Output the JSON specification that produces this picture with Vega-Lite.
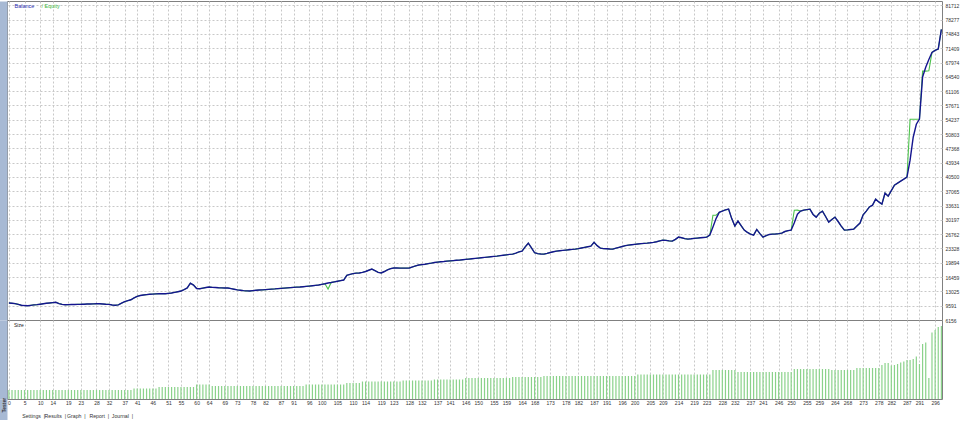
{
"$schema": "https://vega.github.io/schema/vega-lite/v6.json",
"padding": {"top": 0, "left": 0, "right": 0, "bottom": 0},
"background": "#ffffff",
"spacing": 0,
"bounds": "flush",
"config": {"view": {"stroke": "#808080", "strokeWidth": 1}, "font": "Liberation Sans", "axis": {"labelFont": "Liberation Sans", "titleFont": "Liberation Sans"}, "legend": {"labelFont": "Liberation Sans"}},
"resolve": {"scale": {"x": "independent", "y": "independent", "color": "independent"}, "legend": {"color": "independent"}},
"datasets": {
"trades": [
{"t":0,"b":10230,"e":10230,"s":0.9},{"t":1,"b":10180,"e":10180,"s":0.9},{"t":2,"b":10080,"e":10080,"s":0.9},{"t":3,"b":9900,"e":9900,"s":0.9},{"t":4,"b":9700,"e":9700,"s":0.9},{"t":5,"b":9620,"e":9620,"s":0.9},{"t":6,"b":9590,"e":9590,"s":0.9},{"t":7,"b":9680,"e":9680,"s":0.9},{"t":8,"b":9780,"e":9780,"s":0.9},{"t":9,"b":9850,"e":9850,"s":0.9},
{"t":10,"b":9950,"e":9950,"s":0.9},{"t":11,"b":10060,"e":10060,"s":0.9},{"t":12,"b":10180,"e":10180,"s":0.9},{"t":13,"b":10250,"e":10250,"s":0.9},{"t":14,"b":10330,"e":10330,"s":0.9},{"t":15,"b":10400,"e":10400,"s":0.9},{"t":16,"b":10100,"e":10100,"s":0.9},{"t":17,"b":9900,"e":9900,"s":0.9},{"t":18,"b":9830,"e":9830,"s":0.9},{"t":19,"b":9850,"e":9850,"s":0.9},
{"t":20,"b":9870,"e":9870,"s":0.9},{"t":21,"b":9890,"e":9890,"s":0.9},{"t":22,"b":9910,"e":9910,"s":0.9},{"t":23,"b":9920,"e":9920,"s":0.9},{"t":24,"b":9950,"e":9950,"s":0.9},{"t":25,"b":9980,"e":9980,"s":0.9},{"t":26,"b":10000,"e":10000,"s":0.9},{"t":27,"b":10030,"e":10030,"s":0.9},{"t":28,"b":10060,"e":10060,"s":0.9},{"t":29,"b":10040,"e":10040,"s":0.9},
{"t":30,"b":10000,"e":10000,"s":0.9},{"t":31,"b":9950,"e":9950,"s":0.9},{"t":32,"b":9920,"e":9920,"s":0.9},{"t":33,"b":9750,"e":9750,"s":0.9},{"t":34,"b":9700,"e":9700,"s":0.9},{"t":35,"b":9800,"e":9800,"s":0.9},{"t":36,"b":10200,"e":10200,"s":0.9},{"t":37,"b":10550,"e":10550,"s":0.9},{"t":38,"b":10800,"e":10800,"s":0.9},{"t":39,"b":11020,"e":11020,"s":0.9},
{"t":40,"b":11450,"e":11450,"s":1.05},{"t":41,"b":11850,"e":11850,"s":1.05},{"t":42,"b":12050,"e":12050,"s":1.05},{"t":43,"b":12150,"e":12150,"s":1.05},{"t":44,"b":12250,"e":12250,"s":1.05},{"t":45,"b":12330,"e":12330,"s":1.05},{"t":46,"b":12380,"e":12380,"s":1.05},{"t":47,"b":12420,"e":12420,"s":1.05},{"t":48,"b":12460,"e":12460,"s":1.2},{"t":49,"b":12460,"e":12460,"s":1.2},
{"t":50,"b":12460,"e":12460,"s":1.2},{"t":51,"b":12550,"e":12550,"s":1.2},{"t":52,"b":12630,"e":12630,"s":1.2},{"t":53,"b":12800,"e":12800,"s":1.2},{"t":54,"b":12950,"e":12950,"s":1.2},{"t":55,"b":13110,"e":13110,"s":1.2},{"t":56,"b":13450,"e":13450,"s":1.2},{"t":57,"b":13850,"e":13850,"s":1.2},{"t":58,"b":15000,"e":15000,"s":1.2},{"t":59,"b":14550,"e":14550,"s":1.2},
{"t":60,"b":13700,"e":13700,"s":1.45},{"t":61,"b":13660,"e":13660,"s":1.45},{"t":62,"b":13800,"e":13800,"s":1.45},{"t":63,"b":13950,"e":13950,"s":1.45},{"t":64,"b":14070,"e":14070,"s":1.45},{"t":65,"b":14000,"e":14000,"s":1.3},{"t":66,"b":13950,"e":13950,"s":1.3},{"t":67,"b":13900,"e":13900,"s":1.3},{"t":68,"b":13880,"e":13880,"s":1.3},{"t":69,"b":13850,"e":13850,"s":1.3},
{"t":70,"b":13830,"e":13830,"s":1.3},{"t":71,"b":13700,"e":13700,"s":1.3},{"t":72,"b":13550,"e":13550,"s":1.3},{"t":73,"b":13400,"e":13400,"s":1.3},{"t":74,"b":13300,"e":13300,"s":1.3},{"t":75,"b":13200,"e":13200,"s":1.3},{"t":76,"b":13150,"e":13150,"s":1.3},{"t":77,"b":13110,"e":13110,"s":1.3},{"t":78,"b":13200,"e":13200,"s":1.3},{"t":79,"b":13300,"e":13300,"s":1.3},
{"t":80,"b":13350,"e":13350,"s":1.3},{"t":81,"b":13400,"e":13400,"s":1.3},{"t":82,"b":13450,"e":13450,"s":1.3},{"t":83,"b":13500,"e":13500,"s":1.3},{"t":84,"b":13560,"e":13560,"s":1.3},{"t":85,"b":13620,"e":13620,"s":1.3},{"t":86,"b":13700,"e":13700,"s":1.3},{"t":87,"b":13760,"e":13760,"s":1.3},{"t":88,"b":13820,"e":13820,"s":1.3},{"t":89,"b":13880,"e":13880,"s":1.3},
{"t":90,"b":13940,"e":13940,"s":1.3},{"t":91,"b":14000,"e":14000,"s":1.3},{"t":92,"b":14050,"e":14050,"s":1.3},{"t":93,"b":14080,"e":14080,"s":1.3},{"t":94,"b":14150,"e":14150,"s":1.3},{"t":95,"b":14230,"e":14230,"s":1.45},{"t":96,"b":14300,"e":14300,"s":1.45},{"t":97,"b":14380,"e":14380,"s":1.45},{"t":98,"b":14460,"e":14460,"s":1.45},{"t":99,"b":14550,"e":14550,"s":1.45},
{"t":100,"b":14700,"e":14700,"s":1.45},{"t":101,"b":14850,"e":14850,"s":1.45},{"t":102,"b":15030,"e":13600,"s":1.45},{"t":103,"b":15150,"e":15150,"s":1.45},{"t":104,"b":15300,"e":15300,"s":1.45},{"t":105,"b":15450,"e":15450,"s":1.45},{"t":106,"b":15600,"e":15600,"s":1.45},{"t":107,"b":15750,"e":15750,"s":1.45},{"t":108,"b":16900,"e":16900,"s":1.6},{"t":109,"b":17100,"e":17100,"s":1.6},
{"t":110,"b":17300,"e":17300,"s":1.6},{"t":111,"b":17400,"e":17400,"s":1.6},{"t":112,"b":17430,"e":17430,"s":1.6},{"t":113,"b":17600,"e":17600,"s":1.75},{"t":114,"b":17800,"e":17800,"s":1.75},{"t":115,"b":18100,"e":18100,"s":1.75},{"t":116,"b":18380,"e":18380,"s":1.75},{"t":117,"b":18000,"e":18000,"s":1.75},{"t":118,"b":17600,"e":17600,"s":1.75},{"t":119,"b":17450,"e":17450,"s":1.75},
{"t":120,"b":17800,"e":17800,"s":1.75},{"t":121,"b":18200,"e":18200,"s":1.75},{"t":122,"b":18500,"e":18500,"s":1.75},{"t":123,"b":18630,"e":18630,"s":1.75},{"t":124,"b":18630,"e":18630,"s":1.75},{"t":125,"b":18620,"e":18620,"s":1.75},{"t":126,"b":18600,"e":18600,"s":1.85},{"t":127,"b":18620,"e":18620,"s":1.85},{"t":128,"b":18650,"e":18650,"s":1.85},{"t":129,"b":18900,"e":18900,"s":1.85},
{"t":130,"b":19150,"e":19150,"s":1.85},{"t":131,"b":19350,"e":19350,"s":1.85},{"t":132,"b":19450,"e":19450,"s":1.85},{"t":133,"b":19550,"e":19550,"s":1.85},{"t":134,"b":19700,"e":19700,"s":1.85},{"t":135,"b":19800,"e":19800,"s":1.85},{"t":136,"b":19950,"e":19950,"s":1.95},{"t":137,"b":20060,"e":20060,"s":1.95},{"t":138,"b":20150,"e":20150,"s":1.95},{"t":139,"b":20200,"e":20200,"s":1.95},
{"t":140,"b":20280,"e":20280,"s":1.95},{"t":141,"b":20350,"e":20350,"s":1.95},{"t":142,"b":20420,"e":20420,"s":1.95},{"t":143,"b":20500,"e":20500,"s":1.95},{"t":144,"b":20540,"e":20540,"s":1.95},{"t":145,"b":20620,"e":20620,"s":1.95},{"t":146,"b":20700,"e":20700,"s":2.1},{"t":147,"b":20780,"e":20780,"s":2.1},{"t":148,"b":20860,"e":20860,"s":2.1},{"t":149,"b":20940,"e":20940,"s":2.1},
{"t":150,"b":21020,"e":21020,"s":2.1},{"t":151,"b":21100,"e":21100,"s":2.1},{"t":152,"b":21180,"e":21180,"s":2.1},{"t":153,"b":21260,"e":21260,"s":2.1},{"t":154,"b":21340,"e":21340,"s":2.1},{"t":155,"b":21420,"e":21420,"s":2.1},{"t":156,"b":21500,"e":21500,"s":2.1},{"t":157,"b":21600,"e":21600,"s":2.1},{"t":158,"b":21700,"e":21700,"s":2.1},{"t":159,"b":21800,"e":21800,"s":2.1},
{"t":160,"b":21900,"e":21900,"s":2.1},{"t":161,"b":21980,"e":21980,"s":2.2},{"t":162,"b":22200,"e":22200,"s":2.2},{"t":163,"b":22500,"e":22500,"s":2.2},{"t":164,"b":22700,"e":22700,"s":2.2},{"t":165,"b":23700,"e":23700,"s":2.2},{"t":166,"b":24600,"e":24600,"s":2.2},{"t":167,"b":23500,"e":23500,"s":2.2},{"t":168,"b":22300,"e":22300,"s":2.2},{"t":169,"b":22100,"e":22100,"s":2.2},
{"t":170,"b":22000,"e":22000,"s":2.2},{"t":171,"b":21980,"e":21980,"s":2.3},{"t":172,"b":22150,"e":22150,"s":2.3},{"t":173,"b":22350,"e":22350,"s":2.3},{"t":174,"b":22550,"e":22550,"s":2.3},{"t":175,"b":22700,"e":22700,"s":2.3},{"t":176,"b":22780,"e":22780,"s":2.3},{"t":177,"b":22860,"e":22860,"s":2.3},{"t":178,"b":22940,"e":22940,"s":2.3},{"t":179,"b":23020,"e":23020,"s":2.3},
{"t":180,"b":23100,"e":23100,"s":2.3},{"t":181,"b":23180,"e":23180,"s":2.3},{"t":182,"b":23300,"e":23300,"s":2.3},{"t":183,"b":23450,"e":23450,"s":2.3},{"t":184,"b":23600,"e":23600,"s":2.3},{"t":185,"b":23750,"e":23750,"s":2.3},{"t":186,"b":23900,"e":23900,"s":2.3},{"t":187,"b":24800,"e":24800,"s":2.3},{"t":188,"b":24000,"e":24000,"s":2.3},{"t":189,"b":23420,"e":23420,"s":2.3},
{"t":190,"b":23300,"e":23300,"s":2.3},{"t":191,"b":23250,"e":23250,"s":2.3},{"t":192,"b":23200,"e":23200,"s":2.3},{"t":193,"b":23180,"e":23180,"s":2.3},{"t":194,"b":23400,"e":23400,"s":2.3},{"t":195,"b":23600,"e":23600,"s":2.3},{"t":196,"b":23800,"e":23800,"s":2.3},{"t":197,"b":24000,"e":24000,"s":2.3},{"t":198,"b":24140,"e":24140,"s":2.3},{"t":199,"b":24230,"e":24230,"s":2.3},
{"t":200,"b":24320,"e":24320,"s":2.3},{"t":201,"b":24400,"e":24400,"s":2.45},{"t":202,"b":24480,"e":24480,"s":2.45},{"t":203,"b":24560,"e":24560,"s":2.45},{"t":204,"b":24620,"e":24620,"s":2.45},{"t":205,"b":24700,"e":24700,"s":2.45},{"t":206,"b":24800,"e":24800,"s":2.45},{"t":207,"b":24950,"e":24950,"s":2.45},{"t":208,"b":25150,"e":25150,"s":2.45},{"t":209,"b":25340,"e":25340,"s":2.45},
{"t":210,"b":25280,"e":25280,"s":2.45},{"t":211,"b":25150,"e":25150,"s":2.45},{"t":212,"b":25100,"e":25100,"s":2.45},{"t":213,"b":25500,"e":25500,"s":2.45},{"t":214,"b":26060,"e":26060,"s":2.45},{"t":215,"b":25900,"e":25900,"s":2.45},{"t":216,"b":25700,"e":25700,"s":2.45},{"t":217,"b":25580,"e":25580,"s":2.45},{"t":218,"b":25650,"e":25650,"s":2.45},{"t":219,"b":25750,"e":25750,"s":2.45},
{"t":220,"b":25820,"e":25820,"s":2.45},{"t":221,"b":25900,"e":25900,"s":2.45},{"t":222,"b":25980,"e":25980,"s":2.45},{"t":223,"b":26060,"e":26060,"s":2.45},{"t":224,"b":26540,"e":26540,"s":2.45},{"t":225,"b":28500,"e":31300,"s":2.9},{"t":226,"b":30500,"e":31300,"s":2.9},{"t":227,"b":32000,"e":32000,"s":2.9},{"t":228,"b":32300,"e":32300,"s":2.9},{"t":229,"b":32600,"e":32600,"s":2.9},
{"t":230,"b":32770,"e":32770,"s":2.9},{"t":231,"b":30500,"e":30500,"s":2.9},{"t":232,"b":28700,"e":28700,"s":2.9},{"t":233,"b":29900,"e":29900,"s":2.7},{"t":234,"b":28800,"e":28800,"s":2.7},{"t":235,"b":27740,"e":27740,"s":2.7},{"t":236,"b":27200,"e":27200,"s":2.7},{"t":237,"b":26780,"e":26780,"s":2.7},{"t":238,"b":26540,"e":26540,"s":2.7},{"t":239,"b":27900,"e":27900,"s":2.7},
{"t":240,"b":26900,"e":26900,"s":2.7},{"t":241,"b":26060,"e":26060,"s":2.7},{"t":242,"b":26400,"e":26400,"s":2.7},{"t":243,"b":26700,"e":26700,"s":2.7},{"t":244,"b":26780,"e":26780,"s":2.7},{"t":245,"b":26800,"e":26800,"s":2.7},{"t":246,"b":26900,"e":26900,"s":2.7},{"t":247,"b":27020,"e":27020,"s":2.7},{"t":248,"b":27400,"e":27400,"s":2.7},{"t":249,"b":27600,"e":27600,"s":2.7},
{"t":250,"b":27740,"e":27740,"s":2.7},{"t":251,"b":29500,"e":32500,"s":3.0},{"t":252,"b":31570,"e":32530,"s":3.0},{"t":253,"b":32300,"e":32300,"s":3.0},{"t":254,"b":32530,"e":32530,"s":3.0},{"t":255,"b":32650,"e":32650,"s":3.0},{"t":256,"b":32770,"e":32770,"s":3.0},{"t":257,"b":31500,"e":31500,"s":3.0},{"t":258,"b":30850,"e":30850,"s":3.0},{"t":259,"b":31800,"e":31800,"s":3.0},
{"t":260,"b":32290,"e":32290,"s":3.0},{"t":261,"b":31000,"e":31000,"s":3.0},{"t":262,"b":29650,"e":29650,"s":3.0},{"t":263,"b":30300,"e":30300,"s":2.9},{"t":264,"b":30850,"e":30850,"s":2.9},{"t":265,"b":29800,"e":29800,"s":2.9},{"t":266,"b":28700,"e":28700,"s":2.9},{"t":267,"b":27740,"e":27740,"s":2.9},{"t":268,"b":27800,"e":27800,"s":2.9},{"t":269,"b":27900,"e":27900,"s":2.9},
{"t":270,"b":27980,"e":27980,"s":2.9},{"t":271,"b":28700,"e":28700,"s":3.1},{"t":272,"b":29420,"e":29420,"s":3.1},{"t":273,"b":31400,"e":31400,"s":3.1},{"t":274,"b":32290,"e":32290,"s":3.1},{"t":275,"b":33300,"e":33300,"s":3.1},{"t":276,"b":33730,"e":33730,"s":3.1},{"t":277,"b":35170,"e":35170,"s":3.1},{"t":278,"b":34500,"e":34500,"s":3.1},{"t":279,"b":33970,"e":33970,"s":3.4},
{"t":280,"b":36610,"e":36610,"s":3.6},{"t":281,"b":35890,"e":35890,"s":3.6},{"t":282,"b":37200,"e":37200,"s":3.35},{"t":283,"b":38530,"e":38530,"s":3.4},{"t":284,"b":39000,"e":39000,"s":3.5},{"t":285,"b":39490,"e":39490,"s":3.65},{"t":286,"b":39970,"e":39970,"s":3.75},{"t":287,"b":40450,"e":40450,"s":3.9},{"t":288,"b":44520,"e":54360,"s":3.9},{"t":289,"b":50040,"e":54360,"s":4.0},
{"t":290,"b":53160,"e":54360,"s":4.25},{"t":291,"b":54400,"e":54400,"s":3.5},{"t":292,"b":64500,"e":65900,"s":5.5},{"t":293,"b":66830,"e":65900,"s":5.65},{"t":294,"b":68700,"e":66000,"s":2.1},{"t":295,"b":70400,"e":70400,"s":6.65},{"t":296,"b":70900,"e":70900,"s":6.9},{"t":297,"b":71200,"e":71200,"s":7.2},{"t":298,"b":75930,"e":75930,"s":7.3}
],
"tabs": [{"tab":"Settings\u00a0\u00a0|","row":"tabs","sel":false},{"tab":"Results\u00a0\u00a0|","row":"tabs","sel":false},{"tab":"Graph\u00a0\u00a0|","row":"tabs","sel":true},{"tab":"Report\u00a0\u00a0|","row":"tabs","sel":false},{"tab":"Journal\u00a0\u00a0|","row":"tabs","sel":false}]
},
"vconcat": [
{
"width": 935, "height": 319,
"data": {"name": "trades"},
"encoding": {
"x": {"field": "t", "type": "quantitative", "scale": {"domain": [-0.6, 298.2], "nice": false, "zero": false},
"axis": {"orient": "bottom", "values": [0,5,10,14,19,23,28,32,37,41,46,51,55,60,64,69,73,78,82,87,91,96,100,105,110,114,119,123,128,132,137,141,146,150,155,159,164,168,173,178,182,187,191,196,200,205,209,214,219,223,228,232,237,241,246,250,255,259,264,268,273,278,282,287,291,296], "labels": false, "ticks": false, "domain": false, "grid": true, "gridColor": "#c8c8c8", "gridDash": [2,2], "gridWidth": 1, "title": null}}
},
"resolve": {"axis": {"y": "independent"}},
"layer": [
{"mark": {"type": "line", "strokeWidth": 1.1},
"encoding": {
"y": {"field": "e", "type": "quantitative", "scale": {"domain": [6156, 82743], "nice": false, "zero": false},
"axis": {"orient": "left", "domain": true, "domainColor": "#a7b9d4", "domainWidth": 8, "offset": 4, "labels": false, "ticks": false, "grid": false, "title": null}},
"color": {"datum": "Equity", "type": "nominal", "scale": {"domain": ["Balance", "Equity"], "range": ["#15158f", "#4cc24c"]},
"legend": {"orient": "top-left", "direction": "horizontal", "title": null, "offset": 2, "padding": 0, "gridAlign": "none", "symbolSize": 0, "symbolOpacity": 0, "symbolStrokeWidth": 0, "labelOffset": 0, "columnPadding": 1, "labelFontSize": 5.5, "labelExpr": "datum.label === 'Equity' ? '/ Equity' : datum.label", "labelColor": {"expr": "datum.label === 'Balance' ? '#2a2ab0' : '#44bb44'"}}}
}},
{"mark": {"type": "line", "strokeWidth": 1.4},
"encoding": {
"y": {"field": "b", "type": "quantitative",
"axis": {"orient": "right", "values": [6156,9591,13025,16459,19894,23328,26762,30197,33631,37065,40500,43934,47368,50803,54237,57671,61106,64540,67974,71409,74843,78277,81712], "format": "d", "labelFontSize": 5, "labelColor": "#333333", "labelPadding": 3, "ticks": false, "domain": false, "grid": true, "gridColor": "#c8c8c8", "gridDash": [2,2], "title": null}},
"color": {"datum": "Balance", "type": "nominal"}
}}
]
},
{
"width": 935, "height": 79,
"data": {"name": "trades"},
"mark": {"type": "rule", "strokeWidth": 1.2},
"encoding": {
"x": {"field": "t", "type": "quantitative", "scale": {"domain": [-0.6, 298.2], "nice": false, "zero": false},
"axis": {"orient": "bottom", "values": [0,5,10,14,19,23,28,32,37,41,46,51,55,60,64,69,73,78,82,87,91,96,100,105,110,114,119,123,128,132,137,141,146,150,155,159,164,168,173,178,182,187,191,196,200,205,209,214,219,223,228,232,237,241,246,250,255,259,264,268,273,278,282,287,291,296], "labelFontSize": 5, "labelColor": "#333333", "labelPadding": 1, "ticks": false, "domain": false, "grid": true, "gridColor": "#c8c8c8", "gridDash": [2,2], "title": null}},
"y": {"field": "s", "type": "quantitative", "scale": {"domain": [0, 7.9], "nice": false},
"axis": {"orient": "left", "domain": true, "domainColor": "#a7b9d4", "domainWidth": 8, "offset": 4, "labels": false, "ticks": false, "grid": false, "title": null}},
"y2": {"datum": 0},
"color": {"datum": "Size", "type": "nominal", "scale": {"domain": ["Size"], "range": ["#8ad28a"]},
"legend": {"orient": "top-left", "title": null, "offset": 2, "padding": 0, "symbolSize": 0, "symbolOpacity": 0, "symbolStrokeWidth": 0, "labelOffset": 0, "labelFontSize": 5, "labelColor": "#222222"}}
}
},
{
"width": 952, "height": 21,
"view": {"stroke": null},
"data": {"name": "tabs"},
"mark": {"type": "text", "fontSize": 5.2, "color": "#333333", "baseline": "middle", "align": "left", "dy": 6},
"encoding": {
"x": {"field": "tab", "type": "nominal", "sort": null, "scale": {"type": "point", "range": [4, 116]}, "axis": null},
"y": {"field": "row", "type": "nominal", "axis": {"orient": "left", "domain": true, "domainColor": "#a7b9d4", "domainWidth": 8, "offset": 4, "labels": false, "ticks": false, "grid": false, "title": "Tester", "titleAngle": 270, "titleFontSize": 5, "titleColor": "#333333", "titleX": 0, "titleY": 13, "titleAlign": "left", "titleBaseline": "middle"}},
"text": {"field": "tab"},
"fontWeight": {"condition": {"test": "datum.sel", "value": "bold"}, "value": "normal"}
}
}
]
}
